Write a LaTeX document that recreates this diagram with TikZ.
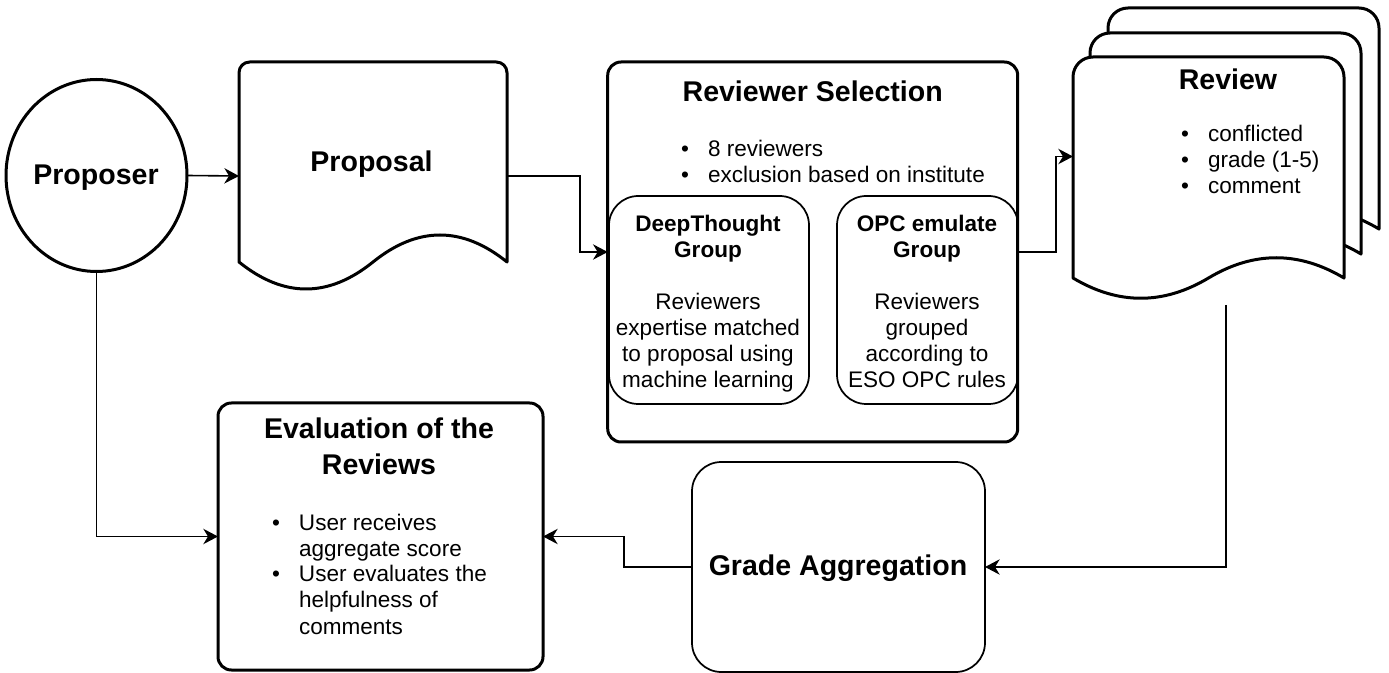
\documentclass[tikz,border=0pt]{standalone}
\usepackage{fontspec}
\setmainfont{Liberation Sans}
\usetikzlibrary{arrows.meta,calc,shapes.geometric}
\newcommand\bodyfont{\fontsize{16.9pt}{19.5pt}\selectfont}
\newcommand\titlefont{\fontsize{21.4pt}{27pt}\selectfont\bfseries}
\newcommand\bul{\makebox[20.25pt][l]{\textbullet}}
% document shape: x0, y0, w, h, dy, corner radius
\newcommand\docpath[6]{%
  \draw[thick box, fill=white, rounded corners=#6]
    (#1, {#2+#4-#5/2}) -- (#1,#2) -- ({#1+#3},#2)
    [sharp corners] -- ({#1+#3}, {#2+#4-#5/2})
    .. controls ({#1+5*#3/6}, {#2+#4-1.1*#5}) and ({#1+2*#3/3}, {#2+#4-1.1*#5}) .. ({#1+#3/2}, {#2+#4-#5/2})
    .. controls ({#1+#3/3}, {#2+#4+0.1*#5}) and ({#1+#3/6}, {#2+#4+0.1*#5}) .. (#1, {#2+#4-#5/2})
    -- cycle;}
\begin{document}
\begin{tikzpicture}[x=0.75pt,y=-0.75pt,
  thick box/.style={line width=2.25pt, line join=round},
  thin box/.style={line width=1.3pt},
  conn/.style={line width=1.2pt, -{Stealth[length=11pt,width=11.5pt,inset=3.5pt]}},
  frame/.style={inner sep=0pt, outer sep=0pt, draw=none},
  txt/.style={inner sep=0pt, outer sep=0pt}]
\useasboundingbox (0,0) rectangle (1389,673);

% Proposer
\node[ellipse, draw, thick box, inner sep=0pt, outer sep=0pt, minimum width=135.75pt, minimum height=144pt] (proposer) at (96.5,175.5) {};
\node[txt, anchor=base] (proposertxt) at (96,185) {\titlefont Proposer};

% Proposal document
\docpath{239}{62}{268}{230}{60}{8}
\node[frame, minimum width=201pt, minimum height=171pt] (proposal) at (373,176) {};
\node[txt, anchor=base] (proposaltxt) at (371.5,172) {\titlefont Proposal};

% Reviewer Selection
\node[draw, thick box, rounded corners=10, inner sep=0pt, outer sep=0pt, minimum width=307.5pt, minimum height=285pt] (rs) at (812.7,252) {};
\node[txt, anchor=base] (rstitle) at (812.7,102) {\titlefont Reviewer Selection};
\node[txt, anchor=base west] (rslist) at (681,157) {\bodyfont\begin{tabular}[t]{@{}l@{}}\bul 8 reviewers\\ \bul exclusion based on institute\end{tabular}};
\node[draw, thin box, rounded corners=22, inner sep=0pt, minimum width=150pt, minimum height=156pt] (dt) at (709,300) {};
\node[txt, anchor=base] (dttxt) at (708,232) {\bodyfont\begin{tabular}[t]{@{}c@{}}\textbf{DeepThought}\\ \textbf{Group}\\ \\ Reviewers\\ expertise matched\\ to proposal using\\ machine learning\end{tabular}};
\node[draw, thin box, rounded corners=22, inner sep=0pt, minimum width=135.75pt, minimum height=156pt] (opc) at (927.5,300) {};
\node[txt, anchor=base] (opctxt) at (927,232) {\bodyfont\begin{tabular}[t]{@{}c@{}}\textbf{OPC emulate}\\ \textbf{Group}\\ \\ Reviewers\\ grouped\\ according to\\ ESO OPC rules\end{tabular}};

% Review stack
\docpath{1108}{8}{271}{243.5}{45}{15}
\docpath{1090}{33}{271}{243.5}{45}{15}
\docpath{1073}{57}{271}{243.5}{45}{15}
\node[frame, minimum width=229.5pt, minimum height=222.75pt] (review) at (1226,156.5) {};
\node[txt, anchor=base] (reviewtitle) at (1228,90) {\titlefont Review};
\node[txt, anchor=base west] (reviewlist) at (1181,142) {\bodyfont\begin{tabular}[t]{@{}l@{}}\bul conflicted\\ \bul grade (1-5)\\ \bul comment\end{tabular}};

% Grade Aggregation
\node[draw, thin box, rounded corners=22, inner sep=0pt, outer sep=0pt, minimum width=219.75pt, minimum height=157.5pt] (grade) at (838.5,567) {};
\node[txt, anchor=base] (gradetxt) at (838,575) {\titlefont Grade Aggregation};

% Evaluation
\node[draw, thick box, rounded corners=10, inner sep=0pt, outer sep=0pt, minimum width=243.75pt, minimum height=200.25pt] (eval) at (380.5,536.5) {};
\node[txt, anchor=base] (evaltitle) at (379,439) {\titlefont\begin{tabular}[t]{@{}c@{}}Evaluation of the\\ Reviews\end{tabular}};
\node[txt, anchor=base west] (evallist) at (272,530) {\bodyfont\begin{tabular}[t]{@{}l@{}}\bul User receives\\ \hphantom{\bul}aggregate score\\ \bul User evaluates the\\ \hphantom{\bul}helpfulness of\\ \hphantom{\bul}comments\end{tabular}};

% connectors
\draw[conn] (proposer.east) -- (proposal.west);
\draw[conn] (proposal.east) -- ++(73,0) |- (rs.west);
\draw[conn] (rs.east) -- ++(38,0) |- (review.west);
\draw[conn] (review.south) |- (grade.east);
\draw[conn] (grade.west) -- ++(-68,0) |- (eval.east);
\draw[conn] (proposer.south) |- (eval.west);
\end{tikzpicture}
\end{document}
